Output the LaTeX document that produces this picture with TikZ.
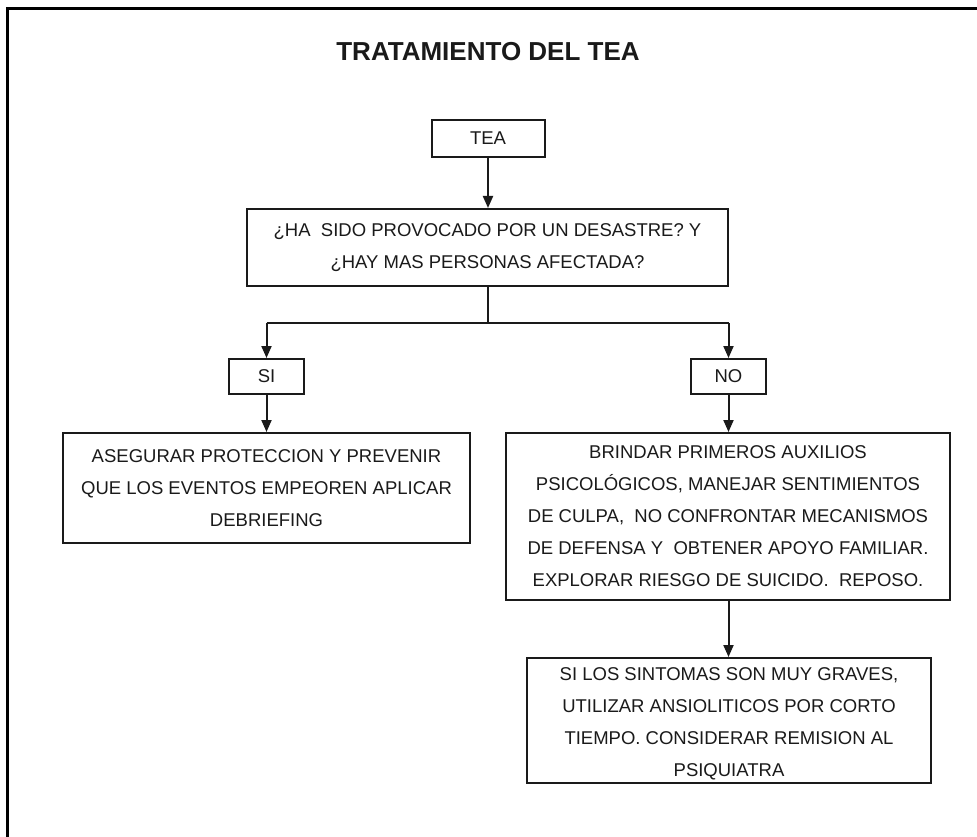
\documentclass[tikz,border=0pt]{standalone}
\usepackage{fontspec}
\setmainfont{Liberation Sans}
\usetikzlibrary{arrows.meta}
\definecolor{ink}{HTML}{1A1A1A}
\tikzset{
  box/.style={draw=ink, line width=2pt, align=center, text=ink, inner sep=0pt,
    font=\fontsize{18.5}{32}\selectfont},
  link/.style={draw=ink, line width=2pt},
  arr/.style={link, -{Triangle[width=10pt,length=12pt]}},
}
\begin{document}
\begin{tikzpicture}[x=1pt,y=-1pt]
\useasboundingbox (0,0) rectangle (977,837);
\fill[white] (0,0) rectangle (977,837);
% outer frame (cut off at right and bottom)
\draw[line width=3pt, black] (7,850) -- (7,9) -- (990,9);
% title
\node[text=ink, font=\fontsize{26}{30}\selectfont\bfseries] (title) at (488,52) {TRATAMIENTO DEL TEA};
% boxes
\node[box, minimum width=113pt, minimum height=37pt] (tea) at (488,138.5) {TEA};
\node[box, minimum width=481pt, minimum height=77pt] (q) at (487.5,247.5)
  {¿HA\ \ SIDO PROVOCADO POR UN DESASTRE? Y\\ ¿HAY MAS PERSONAS AFECTADA?};
\node[box, minimum width=75pt, minimum height=35pt] (si) at (266.5,376.5) {SI};
\node[box, minimum width=75pt, minimum height=35pt] (no) at (728.5,376.5) {NO};
\node[box, minimum width=407pt, minimum height=110pt] (left) at (266.5,488)
  {ASEGURAR PROTECCION Y PREVENIR\\ QUE LOS EVENTOS EMPEOREN APLICAR\\ DEBRIEFING};
\node[box, minimum width=444pt, minimum height=167pt] (right) at (728,516.5)
  {BRINDAR PRIMEROS AUXILIOS\\ PSICOLÓGICOS, MANEJAR SENTIMIENTOS\\ DE CULPA,\ \ NO CONFRONTAR MECANISMOS\\ DE DEFENSA Y\ \ OBTENER APOYO FAMILIAR.\\ EXPLORAR RIESGO DE SUICIDO.\ \ REPOSO.};
\node[box, minimum width=404pt, minimum height=125pt] (bottom) at (729,720.5)
  {\rule{0pt}{19pt}SI LOS SINTOMAS SON MUY GRAVES,\\ UTILIZAR ANSIOLITICOS POR CORTO\\ TIEMPO. CONSIDERAR REMISION AL\\ PSIQUIATRA};
% connectors
\coordinate (branch) at (488,323);
\draw[arr] (tea.south) -- (q.north -| tea.south);
\draw[link] (q.south -| branch) -- (branch);
\draw[link] (si.north |- branch) -- (no.north |- branch);
\draw[arr] (si.north |- branch) -- (si.north);
\draw[arr] (no.north |- branch) -- (no.north);
\draw[arr] (si.south) -- (left.north -| si.south);
\draw[arr] (no.south) -- (right.north -| no.south);
\draw[arr] (right.south -| no.south) -- (bottom.north -| no.south);
\end{tikzpicture}
\end{document}
